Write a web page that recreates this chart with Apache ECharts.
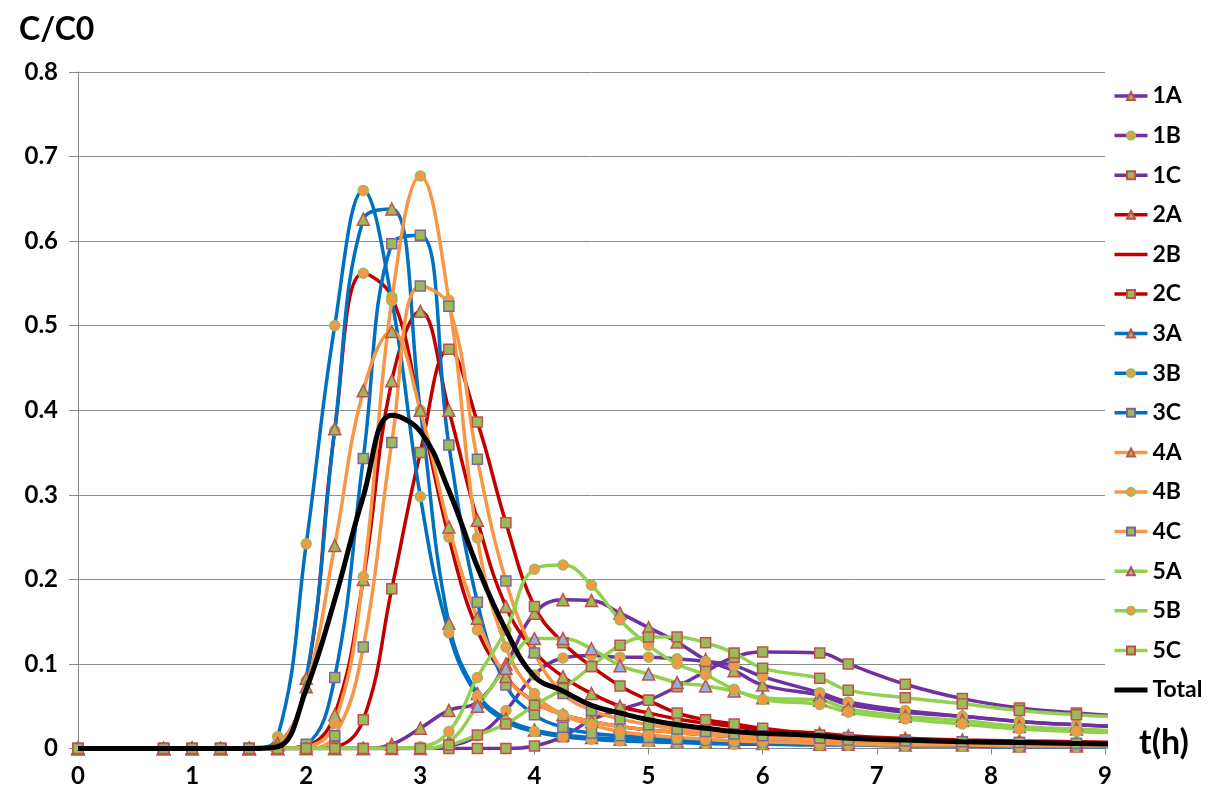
<!DOCTYPE html>
<html><head><meta charset="utf-8">
<script src="https://cdn.jsdelivr.net/npm/echarts@6/dist/echarts.min.js"></script>
<style>html,body{margin:0;padding:0;background:#fff}#c{width:1212px;height:798px}</style>
</head><body><div id="c"></div>
<script>
// time points (h)
const times = [0,0.75,1,1.25,1.5,1.75,2,2.25,2.5,2.75,3,3.25,3.5,3.75,4,4.25,4.5,4.75,5,5.25,5.5,5.75,6,6.5,6.75,7.25,7.75,8.25,8.75,9.25];
const yTicks = [0,0.1,0.2,0.3,0.4,0.5,0.6,0.7,0.8];
const xTicks = [0,1,2,3,4,5,6,7,8,9];
// series values C/C0
const s1A = [0,0,0,0,0,0,0,0,0,0.005,0.024,0.045,0.055,0.10,0.16,0.176,0.175,0.16,0.143,0.126,0.105,0.092,0.075,0.063,0.052,0.043,0.038,0.032,0.028,0.025];
const s1B = [0,0,0,0,0,0,0,0,0,0,0,0.003,0.015,0.045,0.087,0.107,0.11,0.108,0.108,0.106,0.103,0.098,0.085,0.066,0.055,0.045,0.038,0.032,0.028,0.025];
const s1C = [0,0,0,0,0,0,0,0,0,0,0,0,0,0,0.003,0.014,0.034,0.046,0.057,0.073,0.091,0.108,0.114,0.113,0.100,0.076,0.059,0.048,0.042,0.037];
const s2A = [0,0,0,0,0,0,0.003,0.04,0.20,0.435,0.517,0.40,0.27,0.168,0.115,0.085,0.065,0.05,0.042,0.035,0.03,0.026,0.022,0.018,0.015,0.012,0.01,0.009,0.008,0.007];
const s2B = [0,0,0,0,0,0.006,0.08,0.376,0.562,0.534,0.40,0.25,0.14,0.085,0.055,0.04,0.032,0.026,0.022,0.019,0.016,0.014,0.012,0.01,0.009,0.008,0.007,0.006,0.005,0.005];
const s2C = [0,0,0,0,0,0,0,0.002,0.034,0.189,0.35,0.472,0.386,0.267,0.168,0.125,0.097,0.074,0.057,0.042,0.034,0.029,0.024,0.016,0.013,0.01,0.008,0.007,0.006,0.005];
const s3A = [0,0,0,0,0,0.004,0.083,0.378,0.626,0.638,0.40,0.148,0.065,0.035,0.022,0.016,0.013,0.011,0.01,0.009,0.008,0.007,0.006,0.005,0.005,0.004,0.004,0.003,0.003,0.003];
const s3B = [0,0,0,0,0,0.014,0.242,0.50,0.66,0.53,0.298,0.137,0.062,0.032,0.02,0.014,0.011,0.009,0.008,0.007,0.006,0.005,0.005,0.004,0.004,0.003,0.003,0.002,0.002,0.002];
const s3C = [0,0,0,0,0,0,0.005,0.084,0.343,0.597,0.607,0.359,0.173,0.075,0.04,0.025,0.018,0.015,0.013,0.011,0.01,0.009,0.008,0.007,0.006,0.005,0.005,0.004,0.004,0.004];
const s4A = [0,0,0,0,0,0.006,0.073,0.24,0.423,0.493,0.40,0.262,0.154,0.085,0.055,0.04,0.032,0.026,0.022,0.019,0.016,0.014,0.012,0.01,0.009,0.008,0.007,0.006,0.005,0.005];
const s4B = [0,0,0,0,0,0,0.002,0.03,0.203,0.53,0.677,0.53,0.249,0.12,0.065,0.04,0.028,0.02,0.016,0.013,0.011,0.009,0.008,0.006,0.005,0.004,0.004,0.003,0.003,0.003];
const s4C = [0,0,0,0,0,0,0,0.015,0.12,0.362,0.547,0.523,0.342,0.198,0.113,0.065,0.045,0.035,0.028,0.023,0.02,0.017,0.015,0.012,0.01,0.009,0.008,0.007,0.006,0.006];
const s5A = [0,0,0,0,0,0,0,0,0,0,0,0.008,0.05,0.095,0.13,0.13,0.118,0.098,0.088,0.078,0.074,0.068,0.06,0.057,0.047,0.038,0.033,0.026,0.023,0.02];
const s5B = [0,0,0,0,0,0,0,0,0,0,0.002,0.02,0.084,0.14,0.212,0.217,0.193,0.152,0.122,0.10,0.087,0.07,0.058,0.052,0.043,0.035,0.029,0.023,0.02,0.018];
const s5C = [0,0,0,0,0,0,0,0,0,0,0,0.004,0.016,0.029,0.051,0.071,0.097,0.122,0.132,0.132,0.125,0.113,0.095,0.083,0.069,0.060,0.053,0.045,0.040,0.036];
const sTotal = [0,0,0,0,0,0.002,0.07,0.176,0.298,0.394,0.375,0.305,0.215,0.14,0.085,0.068,0.051,0.042,0.034,0.028,0.024,0.02,0.018,0.015,0.012,0.01,0.008,0.007,0.006,0.005];

const names = ['1A','1B','1C','2A','2B','2C','3A','3B','3C','4A','4B','4C','5A','5B','5C','Total'];
const values = [s1A,s1B,s1C,s2A,s2B,s2C,s3A,s3B,s3C,s4A,s4B,s4C,s5A,s5B,s5C,sTotal];

const PURPLE='#7030A0', RED='#C00000', BLUE='#0070C0', ORANGE='#F79646', GREEN='#92D050';
const MK_GREEN='#9BBB59', MK_RED='#C0504D', MK_ORANGE='#F79646', MK_PURPLE='#8064A2', MK_LAV='#95B3D7';
const lineColors = [PURPLE,PURPLE,PURPLE,RED,RED,RED,BLUE,BLUE,BLUE,ORANGE,ORANGE,ORANGE,GREEN,GREEN,GREEN,'#000'];
const tri = {symbol:'triangle', size:12, fill:MK_GREEN, border:MK_RED};
const cir = {symbol:'circle', size:10, fill:MK_ORANGE, border:MK_GREEN};
const sqR = {symbol:'rect', size:10, fill:MK_GREEN, border:MK_RED};
const sqP = {symbol:'rect', size:10, fill:MK_GREEN, border:MK_PURPLE};
const triL = {symbol:'triangle', size:12, fill:MK_LAV, border:MK_RED};
const markers = [tri,cir,sqR,tri,cir,sqR,tri,cir,sqP,tri,cir,sqP,triL,cir,sqR,null];

const series = names.map((n,i)=>{
  const m = markers[i];
  return {
    name:n, type:'line', smooth:0.42, clip:true,
    data: times.map((t,j)=>[t, values[i][j]]),
    showSymbol: !!m, symbol: m? m.symbol:'none', symbolSize: m? m.size:0,
    itemStyle: m? {color:m.fill, borderColor:m.border, borderWidth:1.5} : {color:'#000'},
    lineStyle:{color:lineColors[i], width: n==='Total'?5:3.5},
    emphasis:{disabled:true}, animation:false, z: n==='Total'?3:2
  };
});

const legendData = names.map((n,i)=> {
  const item = {name:n, lineStyle:{color:lineColors[i], width: n==='Total'?5:3.5}};
  if (n==='2B'||n==='Total') item.itemStyle = {opacity:0};
  return item;
});

const chart = echarts.init(document.getElementById('c'), null, {renderer:'canvas'});
const FONT = 'Lato';
chart.setOption({
  animation:false,
  backgroundColor:'#fff',
  grid:{left:78, right:107, top:72, bottom:49.5, containLabel:false},
  xAxis:{type:'value', min:0, max:9, interval:1,
    axisLine:{show:true, onZero:false, lineStyle:{color:'#868686', width:1}},
    axisTick:{show:true, length:6, lineStyle:{color:'#868686'}},
    splitLine:{show:false},
    axisLabel:{color:'#000', fontFamily:FONT, fontWeight:'bold', fontSize:24, margin:16,
      formatter:v=> xTicks.includes(v)? String(v):''}},
  yAxis:{type:'value', min:0, max:0.8, interval:0.1,
    axisLine:{show:true, lineStyle:{color:'#868686', width:1}},
    axisTick:{show:true, length:9, lineStyle:{color:'#868686'}},
    splitLine:{show:true, lineStyle:{color:'#8C8C8C', width:1}},
    axisLabel:{color:'#000', fontFamily:FONT, fontWeight:'bold', fontSize:24, margin:20,
      formatter:v=>{ const t = yTicks.find(k=>Math.abs(k-v)<1e-9); return t===0?'0':(t!==undefined? t.toFixed(1):''); }}},
  legend:{orient:'vertical', left:1112, top:84, padding:0, itemWidth:33, itemHeight:10, itemGap:15.6,
    data:legendData,
    textStyle:{color:'#000', fontFamily:FONT, fontWeight:'bold', fontSize:23, lineHeight:24}},
  graphic:[
    {type:'text', left:19, top:14, style:{text:'C/C0', fill:'#000', font:'bold 32px '+FONT}},
    {type:'text', left:1139, top:726, style:{text:'t(h)', fill:'#000', font:'bold 34px '+FONT}}
  ],
  series: series
});
</script></body></html>
